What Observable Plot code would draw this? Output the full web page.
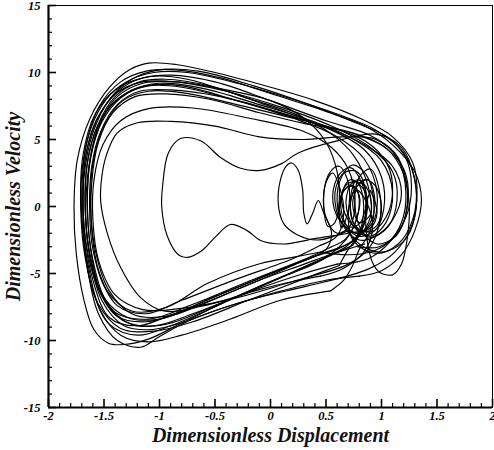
<!DOCTYPE html>
<html><head><meta charset="utf-8">
<script src="https://cdn.jsdelivr.net/npm/d3@7"></script>
<script src="https://cdn.jsdelivr.net/npm/@observablehq/plot@0.6"></script>
<style>html,body{margin:0;padding:0;background:#fff} svg{display:block}</style>
</head><body><div id="chart"></div>
<script>
// Axis setup
const xDomain = [-2, 2];
const yDomain = [-15, 15];
const xMajor = [-2, -1.5, -1, -0.5, 0, 0.5, 1, 1.5, 2];
const xMinor = [-1.9,-1.8,-1.7,-1.6,-1.4,-1.3,-1.2,-1.1,-0.9,-0.8,-0.7,-0.6,-0.4,-0.3,-0.2,-0.1,0.1,0.2,0.3,0.4,0.6,0.7,0.8,0.9,1.1,1.2,1.3,1.4,1.6,1.7,1.8,1.9];
const yMajor = [-15, -10, -5, 0, 5, 10, 15];
const yMinor = [-14,-13,-12,-11,-9,-8,-7,-6,-4,-3,-2,-1,1,2,3,4,6,7,8,9,11,12,13,14];
const xTitle = "Dimensionless Displacement";
const yTitle = "Dimensionless Velocity";

// Phase trajectory as [displacement, velocity] pairs, orbit by orbit
const orbit01 = [[0.85,-2.8],[0.55,-3.6],[0.2,-4.9],[-0.3,-6.7],[-0.8,-8.7],[-1.1,-9.9],[-1.32,-10.3],[-1.46,-10.2],[-1.59,-9.2],[-1.68,-7.0],[-1.75,-3.5],[-1.77,0],[-1.74,3.5],[-1.63,6.5],[-1.45,8.9],[-1.27,10.2],[-1.1,10.7],[-0.85,10.6],[-0.5,10.0],[0,8.9],[0.4,7.9],[0.8,6.6],[1.1,5.2],[1.28,3.3],[1.32,1.0],[1.27,-1.5],[1.12,-3.4],[0.9,-4.6],[0.6,-5.4]];
const orbit02 = [[0.6,-5.4],[0.3,-6.0],[-0.2,-7.0],[-0.7,-8.4],[-1.0,-9.7],[-1.17,-10.5],[-1.38,-10.0],[-1.55,-8.0],[-1.65,-4.5],[-1.69,0],[-1.66,4.0],[-1.53,7.0],[-1.33,8.9],[-1.08,9.7],[-0.75,9.5],[-0.25,8.2],[0.25,6.8],[0.55,5.4],[0.75,3.8],[0.88,1.5],[0.9,-0.8],[0.8,-2.0],[0.64,-1.2],[0.58,1.0],[0.66,2.5],[0.78,2.6],[0.86,1.0],[0.84,-1.4],[0.74,-2.9]];
const orbit03 = [[0.74,-2.9],[0.45,-4.0],[0.0,-5.6],[-0.5,-7.4],[-0.95,-8.8],[-1.25,-8.8],[-1.47,-7.2],[-1.6,-4.0],[-1.65,0],[-1.62,3.6],[-1.52,6.3],[-1.35,8.1],[-1.12,9.0],[-0.8,9.0],[-0.3,7.9],[0.2,6.6],[0.58,5.3],[0.84,3.6],[0.96,1.0],[0.92,-1.2],[0.78,-2.0],[0.62,-1.0],[0.56,0.8],[0.62,2.4],[0.72,2.9],[0.82,1.8],[0.86,-0.2],[0.8,-2.0],[0.7,-3.2],[0.62,-4.4]];
const orbit04 = [[0.62,-4.4],[0.3,-5.4],[-0.2,-7.0],[-0.7,-8.6],[-1.05,-9.3],[-1.35,-9.1],[-1.55,-7.3],[-1.67,-3.8],[-1.71,0],[-1.69,3.8],[-1.58,6.9],[-1.4,8.7],[-1.15,9.6],[-0.9,9.8],[-0.5,9.3],[0,7.9],[0.5,6.4],[0.9,5.3],[1.12,4.0],[1.22,2.0],[1.22,-0.5],[1.13,-2.2],[0.96,-2.8],[0.82,-1.8],[0.76,0.2],[0.8,2.2],[0.9,2.8],[0.98,1.2],[0.98,-1.3],[0.88,-3.2],[0.7,-4.3],[0.5,-4.9]];
const orbit05 = [[0.5,-4.9],[0.2,-5.6],[-0.3,-6.8],[-0.8,-7.6],[-1.15,-7.7],[-1.4,-6.6],[-1.55,-4.0],[-1.6,-1.0],[-1.59,2.0],[-1.51,4.6],[-1.35,6.4],[-1.1,7.3],[-0.7,7.35],[-0.2,6.6],[0.3,5.6],[0.55,4.4],[0.7,2.8],[0.76,0.5],[0.72,-1.4],[0.6,-2.0],[0.5,-0.8],[0.48,1.0],[0.54,2.6],[0.62,3.0],[0.7,1.8],[0.7,-0.3],[0.64,-1.6],[0.62,-0.3],[0.68,1.6],[0.78,1.8],[0.84,0.0],[0.78,-2.2],[0.6,-3.2]];
const orbit06 = [[0.6,-3.2],[0.3,-4.0],[-0.2,-5.6],[-0.7,-7.3],[-1.1,-8.4],[-1.4,-7.9],[-1.57,-5.6],[-1.65,-2.5],[-1.66,1.0],[-1.6,4.5],[-1.46,7.3],[-1.25,8.7],[-1.0,9.2],[-0.6,8.8],[-0.1,7.6],[0.4,6.3],[0.75,5.0],[1.0,3.4],[1.1,1.0],[1.04,-1.2],[0.9,-2.2],[0.76,-1.4],[0.72,0.6],[0.78,2.0],[0.88,1.2],[0.9,-0.6],[0.8,-1.2],[0.74,0.2],[0.78,1.2],[0.86,0.4],[0.92,-1.6],[0.84,-3.4],[0.66,-4.6],[0.45,-5.2]];
const orbit07 = [[0.45,-5.2],[0.2,-5.6],[-0.1,-6.2],[-0.55,-7.3],[-0.96,-7.8],[-1.17,-6.8],[-1.35,-4.55],[-1.47,-2.0],[-1.53,0.4],[-1.52,2.2],[-1.48,3.8],[-1.38,5.5],[-1.2,6.25],[-0.9,6.35],[-0.5,6.0],[-0.1,5.2],[0.3,5.0],[0.65,5.2],[0.95,5.0],[1.15,3.5],[1.22,1.0],[1.18,-1.2],[1.06,-2.7],[0.9,-3.4],[0.7,-3.6],[0.45,-3.4]];
const orbit08 = [[0.45,-3.4],[0.2,-3.8],[-0.09,-4.25],[-0.57,-5.75],[-0.93,-7.5],[-1.25,-7.8],[-1.48,-6.2],[-1.6,-3.2],[-1.63,0],[-1.61,3.0],[-1.53,5.6],[-1.38,7.6],[-1.18,8.6],[-0.9,8.7],[-0.45,8.2],[0.05,7.1],[0.5,5.9],[0.85,4.6],[1.1,3.0],[1.18,1.0],[1.1,-1.0],[0.95,-2.2],[0.8,-2.5],[0.66,-1.5],[0.6,0.4],[0.64,2.2],[0.74,3.1],[0.86,2.4],[0.93,0.4],[0.9,-1.8],[0.8,-3.2],[0.74,-4.4],[0.66,-5.5],[0.54,-6.3]];
const orbit09 = [[0.54,-6.3],[0.09,-7.0],[-0.36,-8.4],[-0.8,-9.6],[-1.1,-10.1],[-1.35,-9.6],[-1.53,-7.8],[-1.64,-4.5],[-1.7,-1.0],[-1.7,2.5],[-1.62,5.8],[-1.48,8.0],[-1.3,9.3],[-1.05,10.0],[-0.75,10.0],[-0.3,9.2],[0.2,8.0],[0.6,6.9],[0.95,5.7],[1.2,4.0],[1.31,1.5],[1.28,-1.0],[1.15,-2.8],[0.95,-3.5],[0.75,-2.6],[0.7,-0.8],[0.74,1.0]];
const orbit10 = [[0.74,1.0],[0.84,2.0],[0.94,1.6],[1.0,0.0],[0.96,-1.4],[0.84,-1.9],[0.7,-1.0],[0.64,0.8],[0.72,2.0],[0.86,1.0],[0.84,-1.4],[0.68,-3.0],[0.4,-4.0],[-0.1,-5.5],[-0.6,-7.2],[-1.0,-8.4],[-1.28,-8.3],[-1.5,-6.8],[-1.62,-3.8],[-1.67,0],[-1.65,3.2],[-1.56,6.0],[-1.4,8.2],[-1.18,9.3],[-0.95,9.5],[-0.55,9.0],[-0.05,7.6],[0.45,6.1],[0.8,5.3],[1.05,4.3],[1.2,2.4],[1.25,0],[1.23,-2.5],[1.18,-4.3],[1.1,-5.1],[0.98,-4.9],[0.92,-4.2],[0.88,-3.0],[0.86,-1.6],[0.86,0],[0.9,1.2]];
const orbit11 = [[0.9,1.2],[0.96,-0.4],[0.9,-1.6],[0.7,-2.0],[0.4,-2.4],[0.12,-2.8],[-0.09,-2.54],[-0.21,-1.8],[-0.36,-1.34],[-0.5,-2.3],[-0.62,-3.3],[-0.75,-3.8],[-0.83,-3.6],[-0.93,-2.2],[-0.98,0.0],[-0.97,1.7],[-0.92,4.0],[-0.81,5.07],[-0.63,4.9],[-0.45,3.66],[-0.27,2.85],[-0.09,2.7],[0.1,3.2],[0.25,4.0],[0.6,4.9],[0.95,5.4],[1.18,4.4],[1.3,2.0],[1.3,-0.8],[1.2,-2.6],[1.0,-3.4],[0.8,-2.8],[0.7,-1.8]];
const orbit12 = [[0.7,-1.8],[0.58,-2.2],[0.42,-2.5],[0.24,-2.1],[0.12,-1.3],[0.07,0.2],[0.09,2.0],[0.14,3.0],[0.19,3.25],[0.25,2.7],[0.29,1.2],[0.3,-0.5],[0.33,-1.3],[0.38,-0.5],[0.43,0.45],[0.48,-0.5],[0.55,-2.0],[0.5,-3.2],[0.2,-4.4],[-0.3,-6.2],[-0.8,-7.9],[-1.12,-8.6],[-1.38,-8.2],[-1.56,-6.0],[-1.66,-2.8],[-1.69,0.5],[-1.66,4.0],[-1.56,6.6],[-1.38,8.5],[-1.15,9.3],[-0.85,9.3],[-0.4,8.6],[0.1,7.4],[0.55,6.0],[0.9,4.4],[1.1,2.6],[1.14,0.5],[1.06,-1.5],[0.9,-2.3],[0.75,-1.5],[0.68,0.3],[0.74,1.8],[0.84,1.6],[0.86,0]];
const orbit13 = [[0.86,0],[0.8,-1.3],[0.7,-1.5],[0.62,-0.2],[0.66,1.2],[0.76,1.5],[0.8,0.2],[0.72,-2.0],[0.5,-3.8],[0.1,-5.3],[-0.4,-7.1],[-0.9,-8.9],[-1.2,-9.6],[-1.45,-8.8],[-1.6,-6.3],[-1.68,-2.8],[-1.7,1.0],[-1.66,4.6],[-1.54,7.5],[-1.35,9.3],[-1.12,10.1],[-0.85,10.2],[-0.45,9.6],[0.05,8.3],[0.5,7.1],[0.85,6.0],[1.1,4.6],[1.3,2.6],[1.36,0.5],[1.3,-1.8],[1.18,-3.6],[1.0,-4.8],[0.8,-5.2]];
const orbit14 = [[0.8,-5.2],[0.5,-5.5],[0.1,-6.3],[-0.4,-7.5],[-0.85,-8.8],[-1.1,-9.2],[-1.32,-8.9],[-1.52,-7.0],[-1.63,-3.6],[-1.67,0],[-1.64,3.8],[-1.52,6.6],[-1.33,8.3],[-1.1,9.0],[-0.8,8.9],[-0.35,8.0],[0.15,6.8],[0.55,5.7],[0.85,4.2],[1.0,2.2],[1.02,-0.2],[0.94,-1.8],[0.78,-2.2],[0.66,-1.0],[0.64,0.8],[0.72,1.6],[0.8,0.8],[0.78,-0.8],[0.68,-2.4],[0.55,-3.0]];
const orbit15 = [[0.55,-3.0],[0.4,-3.6],[0.0,-5.0],[-0.5,-6.7],[-0.95,-8.2],[-1.25,-8.0],[-1.46,-6.2],[-1.58,-3.2],[-1.62,0],[-1.6,3.2],[-1.5,6.0],[-1.33,7.9],[-1.1,8.6],[-0.8,8.5],[-0.35,7.7],[0.1,6.8],[0.5,6.0],[0.85,4.9],[1.05,3.2],[1.1,1.2],[1.04,-0.8],[0.9,-1.9],[0.76,-1.4],[0.72,0.2],[0.78,1.5],[0.88,2.0],[0.94,0.5],[0.9,-1.2],[0.74,-2.6],[0.5,-3.4]];
const orbit16 = [[0.5,-3.4],[0.1,-4.7],[-0.4,-6.4],[-0.9,-8.1],[-1.2,-8.9],[-1.45,-8.3],[-1.6,-5.5],[-1.68,-1.5],[-1.68,2.2],[-1.6,5.5],[-1.45,8.0],[-1.25,9.5],[-1.0,10.2],[-0.65,10.1],[-0.15,9.0],[0.35,7.6],[0.75,6.3],[1.05,5.2],[1.22,3.6],[1.27,1.5],[1.22,-0.8],[1.08,-2.6],[0.88,-3.9],[0.6,-4.3]];
const orbit17 = [[0.6,-4.3],[0.3,-5.0],[-0.2,-6.4],[-0.7,-8.0],[-1.05,-8.9],[-1.33,-8.5],[-1.52,-6.6],[-1.62,-3.2],[-1.65,0.5],[-1.62,3.8],[-1.54,6.2],[-1.38,8.2],[-1.15,9.2],[-0.85,9.3],[-0.4,8.7],[0.0,7.9],[0.3,6.6],[0.5,4.8],[0.6,2.6],[0.62,0.5],[0.58,-1.2],[0.52,-1.5],[0.48,0],[0.5,1.8],[0.56,2.5],[0.62,1.5],[0.66,-0.5],[0.6,-2.2],[0.45,-2.9]];
const orbit18 = [[0.45,-2.9],[0.2,-3.9],[-0.3,-5.4],[-0.8,-7.0],[-1.12,-8.0],[-1.38,-7.4],[-1.54,-5.0],[-1.61,-1.8],[-1.61,1.8],[-1.55,4.8],[-1.42,7.0],[-1.22,8.2],[-0.95,8.4],[-0.55,8.0],[-0.1,7.0],[0.3,6.2],[0.7,5.6],[1.0,4.6],[1.2,2.8],[1.24,0.5],[1.16,-1.8],[0.98,-3.0],[0.78,-3.0]];

const orbits = {orbit01, orbit02, orbit03, orbit04, orbit05, orbit06, orbit07, orbit08, orbit09,
  orbit10, orbit11, orbit12, orbit13, orbit14, orbit15, orbit16, orbit17, orbit18};
const rows = Object.entries(orbits).flatMap(([name, pts]) =>
  pts.map(([x, y]) => ({orbit: name, x, y})));

const W = 494, H = 450, mL = 48, mR = 2, mT = 5, mB = 43;
const plotW = W - mL - mR, plotH = H - mT - mB;
const serif = "'Liberation Serif', 'Times New Roman', serif";

const chart = Plot.plot({
  width: W, height: H,
  marginLeft: mL, marginRight: mR, marginTop: mT, marginBottom: mB,
  x: {domain: xDomain},
  y: {domain: yDomain},
  style: {fontFamily: serif, fontWeight: "bold", fontStyle: "italic", fontSize: "12px", color: "#000", background: "#fff"},
  marks: [
    Plot.line(rows, {x: "x", y: "y", z: "orbit", curve: "catmull-rom", stroke: "#000", strokeWidth: 1.15}),
    Plot.frame({stroke: "#000", strokeWidth: 1}),
    Plot.ruleX([xDomain[0]], {stroke: "#000", strokeWidth: 2.2}),
    Plot.ruleY([yDomain[0]], {stroke: "#000", strokeWidth: 2.2}),
    Plot.tickX(xMajor, {x: d => d, insetTop: plotH - 8, stroke: "#000", strokeWidth: 1.6}),
    Plot.tickX(xMinor, {x: d => d, insetTop: plotH - 4, stroke: "#000", strokeWidth: 1.2}),
    Plot.tickY(yMajor, {y: d => d, insetRight: plotW - 8, stroke: "#000", strokeWidth: 1.6}),
    Plot.tickY(yMinor, {y: d => d, insetRight: plotW - 4, stroke: "#000", strokeWidth: 1.2}),
    Plot.axisX({ticks: xMajor, tickSize: 0, tickPadding: 4, tickFormat: d => String(d), label: null, fontSize: 12.5}),
    Plot.axisY({ticks: yMajor, tickSize: 0, tickPadding: 8, tickFormat: d => String(d), label: null, fontSize: 12.5}),
    Plot.text([xTitle], {frameAnchor: "bottom", dy: 34, fontSize: 20, fontWeight: "bold", fontStyle: "italic", fill: "#111"}),
    Plot.text([yTitle], {frameAnchor: "left", dx: -35, rotate: -90, textAnchor: "middle", fontSize: 20, fontWeight: "bold", fontStyle: "italic", fill: "#111"})
  ]
});
document.getElementById("chart").append(chart);
</script>
</body></html>
